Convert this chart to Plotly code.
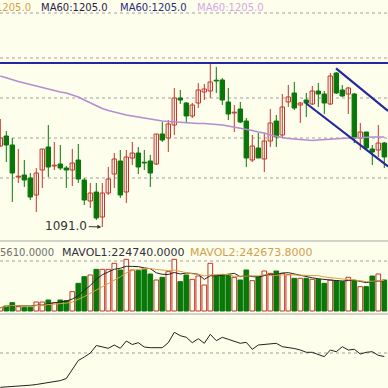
import plotly.graph_objects as go
import pandas as pd

# ---------------- data ----------------
idx = list(range(65))
opens  = [1172,1182,1173,1141,1143,1140,1123,1148,1171,1152,1154,1150,1148,1158,1138,1117,1126,1101,1125,1144,
          1157,1126,1160,1165,1155.8,1157,1154,1184,1180,1193,1220,1215,1202,1215,1226,1227,1237.8,1238,1216,1205,
          1209,1197,1158,1170,1159,1177,1197,1183,1216,1225,1213,1218,1214,1227,1224,1214,1245,1228,1224,1224,
          1180,1186,1169,1168,1175]
highs  = [1199,1187,1180,1169,1158,1145,1150,1169,1193,1176,1173,1152,1169,1174,1140,1135,1135,1135,1151,1165,
          1168,1168,1176,1171,1168,1163,1184,1196,1198,1230,1228,1216,1215,1235,1234,1256,1251,1240,1230,1213,
          1216,1200,1183,1185,1185,1209,1203,1224,1233,1236,1216,1225,1232,1235,1227,1245,1246,1233,1231,1225,
          1195,1186,1173,1193,1176]
lows   = [1171,1156,1116,1135,1131,1118,1106,1130,1141,1148,1148,1130,1132,1135,1113,1110,1098,1091,1123,1130,
          1120,1115,1153,1144,1148,1131,1153,1176,1166,1183,1214,1195,1200,1210,1218,1220,1225,1213,1198,1186,
          1195,1151,1156,1160,1146,1171,1171,1181,1211,1208,1195,1201,1213,1211,1204,1213,1224,1221,1204,1175,
          1168,1168,1153,1161,1150]
closes = [1180,1173,1145,1141.8,1138,1121,1145,1169,1151,1152.8,1150,1148,1155,1139,1118,1125,1100,1125,1139,1159,
          1123,1161,1165,1151,1155,1145,1184,1178,1194,1220,1218,1202,1213,1228,1229,1236,1237,1218,1204,1205.8,
          1196,1160,1172,1160,1177,1195,1181,1211,1221,1210,1215,1215,1227,1224,1215,1242,1225,1222,1230,1180,
          1186,1170,1166,1175,1161]
ma60   = [1242,1240,1238,1236.5,1235,1233.5,1232,1230,1228.5,1227,1226,1225,1223,1221,1218,1215,1212,1209.5,1207.5,1206,
          1204,1203,1202,1201,1200,1198.5,1197.5,1197,1196.5,1196,1195.5,1195,1195,1194.5,1194.5,1194,1194,1193,1192,1191,
          1190,1189,1187.5,1186,1185,1183,1181.5,1180.5,1179.5,1179,1178,1177.5,1177.5,1178,1178.5,1179,1179.5,1179.5,1180,1180,
          1180.5,1180.5,1181,1181,1181]
volumes = [20000,30000,50000,26000,22000,22000,54000,54000,66000,50000,66000,62000,116000,166000,206000,216000,250000,250000,250000,286000,
           246000,310000,246000,242000,250000,222000,186000,202000,236000,310000,176000,216000,190000,210000,156000,286000,210000,216000,216000,202000,
           186000,246000,182000,206000,240000,226000,240000,226000,218000,196000,196000,196000,190000,190000,166000,186000,182000,176000,202000,182000,
           146000,146000,210000,222000,186000]
indicator = [0.7,1.0,1.3,1.7,2.0,2.8,3.5,4.4,5.4,6.4,7.4,9.5,18,27.5,31,35,42.5,41,39.7,43,
             39.7,47,43.5,45.3,41,40.3,40.3,40.3,45.3,55.7,52.3,50.7,45.3,49.3,44.7,53.7,47.3,50.7,48.7,46.7,
             44.7,45.7,38.7,43,43.7,44,44.7,41.3,40.7,39.5,38,35.7,35.7,33.5,31.3,38,36.3,41.3,38,38.7,
             34,35.7,36.3,32.7,31.5]
price_grid = [1140, 1180, 1220, 1260, 1305]
resistance = 1255
low_label = "1091.0"
channel_upper = [(55.95, 1249.7), (64.62, 1207.0)]
channel_lower = [(50.9, 1215.0), (64.62, 1151.5)]

# ---------------- styles ----------------
BG = "#FEFEEC"
RED = "#C8342C"
GREEN = "#087808"
NAVY = "#23289A"
FONT = "DejaVu Sans"
H = 388.0

def py(pix):
    return 1 - pix / H

up = [c >= o for o, c in zip(opens, closes)]

fig = go.Figure()

# wicks
for flag, col in ((True, RED), (False, GREEN)):
    wx, wy = [], []
    for i, u in enumerate(up):
        if u == flag:
            wx += [idx[i], idx[i], None]
            wy += [lows[i], highs[i], None]
    fig.add_trace(go.Scatter(x=wx, y=wy, mode="lines", line=dict(color=col, width=1),
                             xaxis="x", yaxis="y", hoverinfo="skip"))

# bodies
for flag, fill, col in ((True, BG, RED), (False, GREEN, GREEN)):
    bx = [idx[i] for i in range(65) if up[i] == flag]
    base = [min(opens[i], closes[i]) for i in range(65) if up[i] == flag]
    hgt = [max(abs(closes[i] - opens[i]), 0.8) for i in range(65) if up[i] == flag]
    fig.add_trace(go.Bar(x=bx, y=hgt, base=base, width=0.74,
                         marker=dict(color=fill, line=dict(color=col, width=1)),
                         xaxis="x", yaxis="y"))

fig.add_trace(go.Scatter(x=idx, y=ma60, mode="lines", line=dict(color="#B48CD2", width=1.6),
                         xaxis="x", yaxis="y"))

# volume
for flag, fill, col in ((True, BG, RED), (False, GREEN, GREEN)):
    bx = [idx[i] for i in range(65) if up[i] == flag]
    vv = [volumes[i] for i in range(65) if up[i] == flag]
    fig.add_trace(go.Bar(x=bx, y=vv, width=0.78,
                         marker=dict(color=fill, line=dict(color=col, width=1)),
                         xaxis="x2", yaxis="y2"))
vs = pd.Series(volumes)
mav1 = vs.rolling(5, min_periods=1).mean()
mav2 = vs.rolling(10, min_periods=1).mean()
fig.add_trace(go.Scatter(x=idx, y=mav1, mode="lines", line=dict(color="#222222", width=1),
                         xaxis="x2", yaxis="y2"))
fig.add_trace(go.Scatter(x=idx, y=mav2, mode="lines", line=dict(color="#D9A040", width=1),
                         xaxis="x2", yaxis="y2"))

# bottom indicator
fig.add_trace(go.Scatter(x=idx, y=indicator, mode="lines", line=dict(color="#222222", width=1),
                         xaxis="x3", yaxis="y3"))

xr = [-0.05, 64.617]
ax_common = dict(range=xr, showgrid=False, zeroline=False, showticklabels=False, ticks="", showline=False)
yc = dict(showgrid=False, zeroline=False, showticklabels=False, ticks="", showline=False)

shapes = []
for p in price_grid:
    shapes.append(dict(type="line", xref="paper", x0=0, x1=1, yref="y", y0=p, y1=p,
                       line=dict(color="#A0A0A0", width=1, dash="dot"), layer="below"))
shapes.append(dict(type="line", xref="paper", x0=0, x1=1, yref="y2", y0=300000, y1=300000,
                   line=dict(color="#A0A0A0", width=1, dash="dot"), layer="below"))
shapes.append(dict(type="line", xref="paper", x0=0, x1=1, yref="y3", y0=35, y1=35,
                   line=dict(color="#A0A0A0", width=1, dash="dot"), layer="below"))
shapes.append(dict(type="line", xref="paper", x0=0, x1=1, yref="y", y0=resistance, y1=resistance,
                   line=dict(color=NAVY, width=2)))
for (a, b) in (channel_upper, channel_lower):
    shapes.append(dict(type="line", xref="x", yref="y", x0=a[0], y0=a[1], x1=b[0], y1=b[1],
                       line=dict(color=NAVY, width=2.2)))
for pix in (241, 314):
    shapes.append(dict(type="line", xref="paper", x0=0, x1=1, yref="paper", y0=py(pix), y1=py(pix),
                       line=dict(color="#A8A8A8", width=1)))

annotations = []
def txt(s, xpix, ypix, color, size=10):
    annotations.append(dict(text=s, xref="paper", yref="paper", x=xpix / H, y=py(ypix),
                            xanchor="left", yanchor="middle", showarrow=False,
                            font=dict(family=FONT, size=size, color=color)))

txt("1205.0", -6, 7, "#D9A040")
txt("MA60:1205.0", 39, 7, "#2B1B4B")
txt("MA60:1205.0", 118, 7, "#2A2A80")
txt("MA60:1205.0", 195, 7, "#D4A8E8")
txt("5610.0000", -2, 252, "#707070")
txt("MAVOL1:224740.0000", 60, 252, "#303040", 11)
txt("MAVOL2:242673.8000", 188, 252, "#D0A050", 11)

annotations.append(dict(text=low_label, x=17, y=1091, xref="x", yref="y", showarrow=True,
                        ax=-36, ay=-1, arrowhead=2, arrowsize=0.8, arrowwidth=1, arrowcolor="#333333",
                        standoff=1, font=dict(family=FONT, size=12, color="#333333")))

fig.update_layout(
    width=388, height=388, margin=dict(l=0, r=0, t=0, b=0),
    paper_bgcolor=BG, plot_bgcolor=BG, showlegend=False, barmode="overlay",
    xaxis=dict(domain=[0, 1], anchor="y", **ax_common),
    xaxis2=dict(domain=[0, 1], anchor="y2", **ax_common),
    xaxis3=dict(domain=[0, 1], anchor="y3", **ax_common),
    yaxis=dict(domain=[py(241), 1], range=[1077, 1318], **yc),
    yaxis2=dict(domain=[py(314), py(241)], range=[-18000, 420000], **yc),
    yaxis3=dict(domain=[0, py(314)], range=[0, 74], **yc),
    shapes=shapes, annotations=annotations,
)

fig.write_html("out.html", config={"displayModeBar": False},
               post_script="document.body.style.margin='0';document.body.style.padding='0';"
                           "document.documentElement.style.overflow='hidden';"
                           "document.body.style.background='" + BG + "';")
